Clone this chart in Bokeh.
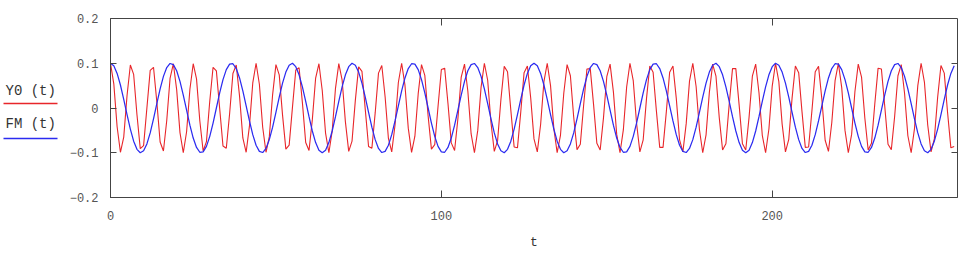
from bokeh.plotting import figure
from bokeh.layouts import row
from bokeh.models import (FixedTicker, LinearAxis, CustomJSTickFormatter, Range1d)
from bokeh.core.properties import value
from bokeh.embed import file_html
from bokeh.resources import INLINE

# ---- data ----
T = list(range(256))

Y0 = [
    .100, .054, -.042, -.099, -.065, .028, .096,
    .075, -.015, -.091, -.084, .000, .084,
    .091, .014, -.076, -.096, -.028, .066,
    .099, .041, -.055, -.100, -.053, .042, .099,
    .065, -.029, -.096, -.075, .015, .091,
    .083, -.001, -.085, -.090, -.013, .077,
    .096, .027, -.067, -.099, -.040, .056,
    .100, .053, -.043, -.099, -.064, .030, .097,
    .074, -.016, -.092, -.083, .002, .085,
    .090, .012, -.077, -.095, -.026, .067,
    .099, .039, -.056, -.100, -.052, .044, .099,
    .063, -.031, -.097, -.074, .017, .092,
    .082, -.003, -.086, -.090, -.011, .078,
    .095, .025, -.068, -.098, -.038, .057,
    .100, .051, -.045, -.099, -.063, .032, .097,
    .073, -.018, -.092, -.082, .004, .086,
    .089, .010, -.078, -.095, -.024, .069,
    .098, .038, -.058, -.100, -.050, .046, .100,
    .062, -.033, -.097, -.073, .019, .093,
    .081, -.005, -.087, -.089, -.009, .079,
    .094, .023, -.069, -.098, -.037, .059,
    .100, .050, -.046, -.100, -.061, .033, .097,
    .072, -.020, -.093, -.081, .006, .087,
    .088, .008, -.079, -.094, -.022, .070,
    .098, .036, -.059, -.100, -.049, .047, .100,
    .061, -.034, -.098, -.071, .021, .094,
    .080, -.007, -.088, -.088, -.008, .080,
    .094, .022, -.071, -.098, -.035, .060,
    .100, .048, -.048, -.100, -.060, .035, .098,
    .071, -.022, -.094, -.080, .008, .088,
    .088, .007, -.080, -.094, -.021, .071,
    .098, .034, -.061, -.100, -.047, .049, .100,
    .059, -.036, -.098, -.070, .022, .094,
    .079, -.008, -.088, -.087, -.006, .081,
    .093, .020, -.072, -.097, -.033, .061,
    .100, .046, -.050, -.100, -.059, .037, .098,
    .069, -.023, -.094, -.079, .009, .089,
    .087, .005, -.081, -.093, -.019, .072,
    .097, .033, -.062, -.100, -.046, .050, .100,
    .058, -.038, -.098, -.069, .024, .095,
    .078, -.010, -.089, -.086,
]

FM = [
    .1000, .0942, .0773, .0514, .0195, -.0147, -.0471, -.0741, -.0924, -.0999,
    -.0957, -.0803, -.0556, -.0243, .0098, .0428, .0707, .0904, .0995, .0970,
    .0832, .0596, .0290, -.0049, -.0383, -.0672, -.0882, -.0989, -.0981, -.0858,
    -.0634, -.0337, .0000, .0337, .0634, .0858, .0981, .0989, .0882, .0672,
    .0383, .0049, -.0290, -.0596, -.0832, -.0970, -.0995, -.0904, -.0707, -.0428,
    -.0098, .0243, .0556, .0803, .0957, .0999, .0924, .0741, .0471, .0147,
    -.0195, -.0514, -.0773, -.0942, -.1000, -.0942, -.0773, -.0514, -.0195, .0147,
    .0471, .0741, .0924, .0999, .0957, .0803, .0556, .0243, -.0098, -.0428,
    -.0707, -.0904, -.0995, -.0970, -.0832, -.0596, -.0290, .0049, .0383, .0672,
    .0882, .0989, .0981, .0858, .0634, .0337, .0000, -.0337, -.0634, -.0858,
    -.0981, -.0989, -.0882, -.0672, -.0383, -.0049, .0290, .0596, .0832, .0970,
    .0995, .0904, .0707, .0428, .0098, -.0243, -.0556, -.0803, -.0957, -.0999,
    -.0924, -.0741, -.0471, -.0147, .0195, .0514, .0773, .0942,
    .1000, .0942, .0773, .0514, .0195, -.0147, -.0471, -.0741, -.0924, -.0999,
    -.0957, -.0803, -.0556, -.0243, .0098, .0428, .0707, .0904, .0995, .0970,
    .0832, .0596, .0290, -.0049, -.0383, -.0672, -.0882, -.0989, -.0981, -.0858,
    -.0634, -.0337, .0000, .0337, .0634, .0858, .0981, .0989, .0882, .0672,
    .0383, .0049, -.0290, -.0596, -.0832, -.0970, -.0995, -.0904, -.0707, -.0428,
    -.0098, .0243, .0556, .0803, .0957, .0999, .0924, .0741, .0471, .0147,
    -.0195, -.0514, -.0773, -.0942, -.1000, -.0942, -.0773, -.0514, -.0195, .0147,
    .0471, .0741, .0924, .0999, .0957, .0803, .0556, .0243, -.0098, -.0428,
    -.0707, -.0904, -.0995, -.0970, -.0832, -.0596, -.0290, .0049, .0383, .0672,
    .0882, .0989, .0981, .0858, .0634, .0337, .0000, -.0337, -.0634, -.0858,
    -.0981, -.0989, -.0882, -.0672, -.0383, -.0049, .0290, .0596, .0832, .0970,
    .0995, .0904, .0707, .0428, .0098, -.0243, -.0556, -.0803, -.0957, -.0999,
    -.0924, -.0741, -.0471, -.0147, .0195, .0514, .0773, .0942,
]

X_TICKS = [0, 100, 200]
Y_TICKS = [-0.2, -0.1, 0, 0.1, 0.2]
SERIES_NAMES = ["Y0 (t)", "FM (t)"]
X_LABEL = "t"

RED = "#e8262a"
BLUE = "#2b2bf0"
FONT = "Liberation Mono"
FRAME = "#444444"

FR_TOP, FR_BOT = 18, 197     # frame rows (row layout aligns both frames)
FR_H = FR_BOT - FR_TOP
LEG_W = 62
FR_LEFT, FR_RIGHT = 110, 957

# ---- legend panel (Mathcad style, at the far left) ----
lp = figure(frame_width=LEG_W, frame_height=FR_H, x_range=Range1d(0, LEG_W),
            y_range=Range1d(FR_BOT, FR_TOP),
            output_backend="svg", toolbar_location=None,
            min_border=0, min_border_left=0, min_border_right=0,
            min_border_top=FR_TOP, min_border_bottom=40)
lp.axis.visible = False
lp.grid.visible = False
lp.outline_line_color = None
lp.background_fill_color = "white"
lp.border_fill_color = "white"
lp.text(x=[5, 5], y=[90, 123], text=SERIES_NAMES, text_font=value(FONT),
        text_font_size="14px", text_baseline="middle", text_color="#333333")
lp.segment(x0=[3, 3], y0=[103, 138], x1=[57, 57], y1=[103, 138],
           line_color=[RED, BLUE], line_width=1.3)

# ---- main chart ----
p = figure(frame_width=FR_RIGHT - FR_LEFT, frame_height=FR_H,
           x_range=Range1d(0, 256), y_range=Range1d(-0.2, 0.2),
           output_backend="svg", toolbar_location=None,
           min_border_left=FR_LEFT - LEG_W, min_border_right=10, min_border_top=FR_TOP,
           min_border_bottom=40)
p.background_fill_color = "white"
p.border_fill_color = "white"
p.grid.visible = False
p.outline_line_color = FRAME
p.outline_line_width = 1

p.line(T, Y0, line_color=RED, line_width=1.1)
p.line(T, FM, line_color=BLUE, line_width=1.25)

xa = p.xaxis[0]
xa.ticker = FixedTicker(ticks=X_TICKS)
xa.axis_label = X_LABEL
ya = p.yaxis[0]
ya.ticker = FixedTicker(ticks=Y_TICKS)
ya.formatter = CustomJSTickFormatter(
    code="return tick == 0 ? '0' : (tick < 0 ? '\u2212' : '') + Math.abs(tick).toFixed(1);")

for ax in (xa, ya):
    ax.axis_line_color = FRAME
    ax.major_tick_line_color = FRAME
    ax.major_tick_in = 7
    ax.major_tick_out = 0
    ax.minor_tick_line_color = None
    ax.major_label_text_font = FONT
    ax.major_label_text_font_size = "12px"
    ax.major_label_text_color = "#555555"
    ax.axis_label_text_font = FONT
    ax.axis_label_text_font_size = "13px"
    ax.axis_label_text_font_style = "normal"
    ax.axis_label_text_color = "#333333"
ya.major_tick_in = 6
ya.major_label_standoff = 12
xa.major_label_standoff = 13
xa.axis_label_standoff = 12

# mirrored inward ticks on right and top borders
blank = CustomJSTickFormatter(code="return '';")
ra = LinearAxis(ticker=FixedTicker(ticks=[-0.1, 0, 0.1]), formatter=blank,
                major_tick_in=6, major_tick_out=0, major_tick_line_color=FRAME,
                minor_tick_line_color=None, axis_line_color=None,
                major_label_standoff=0, major_label_text_font_size="0px")
ta = LinearAxis(ticker=FixedTicker(ticks=[100, 200]), formatter=blank,
                major_tick_in=7, major_tick_out=0, major_tick_line_color=FRAME,
                minor_tick_line_color=None, axis_line_color=None,
                major_label_standoff=0, major_label_text_font_size="0px")
p.add_layout(ra, "right")
p.add_layout(ta, "above")

layout = row(lp, p, spacing=0)
open("out.html", "w").write(file_html(layout, INLINE))
